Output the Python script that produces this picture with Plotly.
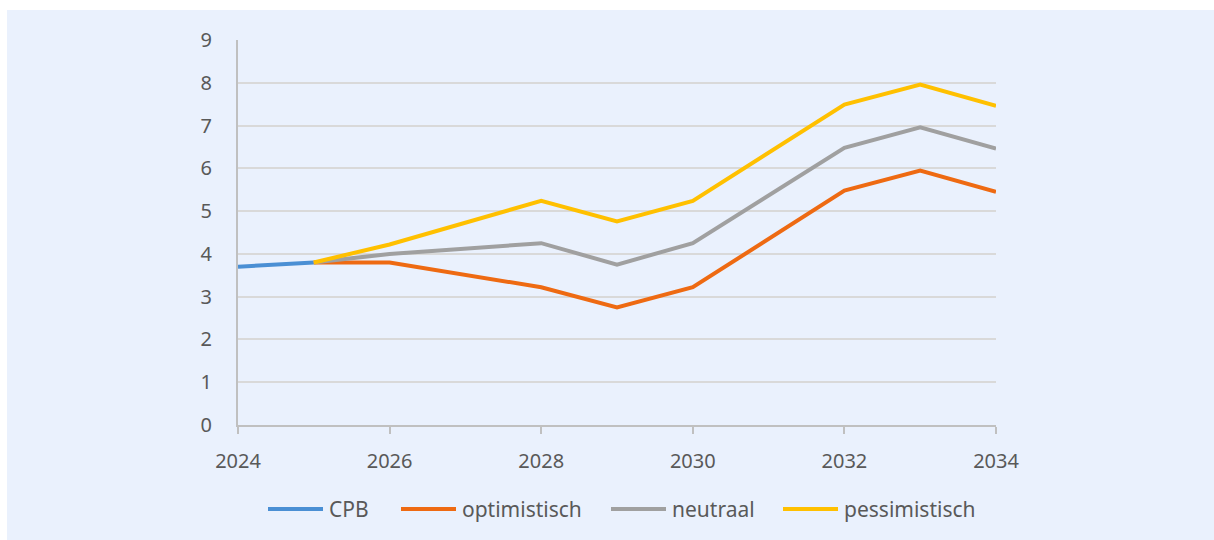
import plotly.graph_objects as go

# Scenario data (years on x, value on y)
cpb_years = [2024, 2025]
cpb_values = [3.7, 3.8]

scen_years = [2025, 2026, 2028, 2029, 2030, 2032, 2033, 2034]
optimistisch = [3.8, 3.8, 3.22, 2.75, 3.22, 5.48, 5.95, 5.45]
neutraal = [3.8, 4.0, 4.25, 3.75, 4.25, 6.48, 6.96, 6.46]
pessimistisch = [3.8, 4.22, 5.24, 4.76, 5.24, 7.49, 7.96, 7.46]

x_ticks = [2024, 2026, 2028, 2030, 2032, 2034]
y_ticks = list(range(0, 10))

BG = "#eaf1fd"
TEXT = "#595959"
AXIS = "#c0c0c0"
GRID = "#d9d9d9"
FONT = "Noto Sans"

# plot area in pixels
L, R, T, B = 238, 996, 40, 425
W, H = 1214, 540


def px(x):
    return (x - L) / (R - L)


def py(y):
    return (B - y) / (B - T)


fig = go.Figure()
series = [
    ("CPB", cpb_years, cpb_values, "#4a8fd4"),
    ("optimistisch", scen_years, optimistisch, "#ee6a12"),
    ("neutraal", scen_years, neutraal, "#a0a0a0"),
    ("pessimistisch", scen_years, pessimistisch, "#ffc000"),
]
for name, xs, ys, color in series:
    fig.add_trace(go.Scatter(
        x=xs, y=ys, name=name, mode="lines",
        line=dict(color=color, width=4),
        showlegend=False,
    ))

# legend row: long colour swatch followed by the series name
legend_starts = [268, 401, 611, 783]
swatch_len = 55
legend_y = 509
shapes = [
    # white frame strips on the left and top edges
    dict(type="rect", xref="paper", yref="paper",
         x0=px(0), x1=px(7), y0=py(W), y1=py(0),
         fillcolor="white", line=dict(width=0), layer="below"),
    dict(type="rect", xref="paper", yref="paper",
         x0=px(0), x1=px(W), y0=py(10), y1=py(0),
         fillcolor="white", line=dict(width=0), layer="below"),
]
annotations = []
for (name, _, _, color), x0 in zip(series, legend_starts):
    shapes.append(dict(
        type="line", xref="paper", yref="paper",
        x0=px(x0), x1=px(x0 + swatch_len), y0=py(legend_y), y1=py(legend_y),
        line=dict(color=color, width=4),
    ))
    annotations.append(dict(
        xref="paper", yref="paper", x=px(x0 + swatch_len + 4), y=py(legend_y),
        xanchor="left", yanchor="middle", text=name, showarrow=False,
        font=dict(family=FONT, size=21, color=TEXT),
    ))

fig.update_layout(
    width=W, height=H,
    margin=dict(l=L, r=W - R, t=T, b=H - B),
    paper_bgcolor=BG, plot_bgcolor="rgba(0,0,0,0)",
    font=dict(family=FONT, color=TEXT, size=20),
    showlegend=False,
    shapes=shapes,
    annotations=annotations,
)

fig.update_xaxes(
    range=[2024, 2034], tickvals=x_ticks, ticktext=[str(t) for t in x_ticks],
    showgrid=False, zeroline=False,
    showline=True, linecolor=AXIS, linewidth=2,
    ticks="outside", ticklen=7, tickwidth=2, tickcolor=AXIS,
    ticklabelstandoff=10, tickfont=dict(size=20, color=TEXT),
)
fig.update_yaxes(
    range=[0, 9], tickvals=y_ticks,
    showgrid=True, gridcolor=GRID, gridwidth=1.5, zeroline=False,
    showline=True, linecolor=AXIS, linewidth=2,
    ticks="", ticklabelstandoff=20, tickfont=dict(size=20, color=TEXT),
)

fig.write_html("out.html")
